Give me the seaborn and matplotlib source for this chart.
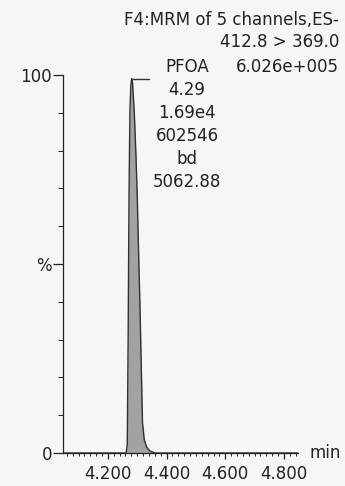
import numpy as np
import pandas as pd
import matplotlib
matplotlib.use("Agg")
import matplotlib.pyplot as plt
import seaborn as sns
from matplotlib.ticker import MultipleLocator, FixedLocator

# chromatogram trace (retention time in min, relative intensity in %)
rt = [4.047, 4.200, 4.262, 4.266, 4.269, 4.272, 4.275, 4.278, 4.281, 4.284,
      4.290, 4.296, 4.300, 4.305, 4.309, 4.314, 4.318, 4.324, 4.332, 4.342,
      4.360, 4.400, 4.600, 4.848]
intensity = [0, 0, 0, 2, 30, 68, 90, 97, 99, 98,
             90, 78, 68, 52, 40, 22, 8, 3.5, 1.6, 0.6,
             0, 0, 0, 0]

header_lines = ["F4:MRM of 5 channels,ES-", "412.8 > 369.0"]
max_intensity = "6.026e+005"
peak_name = "PFOA"
peak_info = ["4.29", "1.69e4", "602546", "bd", "5062.88"]

x_ticks = [4.2, 4.4, 4.6, 4.8]
x_labels = ["4.200", "4.400", "4.600", "4.800"]
y_ticks = [0, 50, 100]
y_labels = ["0", "%", "100"]

df = pd.DataFrame({"rt": rt, "intensity": intensity})

sns.set_style("ticks")
plt.rcParams["font.family"] = ["DejaVu Sans"]
ink = "#222222"
bg = "#f6f6f4"

fig = plt.figure(figsize=(3.45, 4.86), dpi=100, facecolor=bg)
ax = fig.add_axes([0.1826, 0.0679, 0.6812, 0.7778])
ax.set_facecolor(bg)

ax.fill_between(df["rt"], df["intensity"], color="#a2a2a2", lw=0)
sns.lineplot(data=df, x="rt", y="intensity", color="#303030", lw=1.0, ax=ax)

# peak top marker
apex = df.loc[df["intensity"].idxmax()]
ax.plot([apex["rt"], apex["rt"] + 0.058], [apex["intensity"], apex["intensity"]],
        color="#303030", lw=1.0, clip_on=False)

ax.set_xlim(4.047, 4.848)
ax.set_ylim(0, 100)
ax.set_xlabel("")
ax.set_ylabel("")

ax.xaxis.set_major_locator(FixedLocator(x_ticks))
ax.set_xticklabels(x_labels)
ax.xaxis.set_minor_locator(MultipleLocator(0.02))
ax.yaxis.set_major_locator(FixedLocator(y_ticks))
ax.set_yticklabels(y_labels)
ax.yaxis.set_minor_locator(MultipleLocator(10))

ax.tick_params(axis="x", which="major", length=4.5, width=0.9, pad=4,
               labelsize=12, colors=ink)
ax.tick_params(axis="x", which="minor", length=2.5, width=0.7, color=ink)
ax.tick_params(axis="y", which="major", length=7, width=0.9, pad=1,
               labelsize=12, colors=ink)
ax.tick_params(axis="y", which="minor", length=3.6, width=0.7, color=ink)

sns.despine(ax=ax)
for side in ["left", "bottom"]:
    ax.spines[side].set_color(ink)
    ax.spines[side].set_linewidth(0.9)

ax.text(1.047, 0.0, "min", transform=ax.transAxes, fontsize=12,
        color=ink, va="center", ha="left")

# header text
fig.text(0.9826, 0.9486, header_lines[0], fontsize=12, color=ink,
         ha="right", va="baseline")
fig.text(0.9826, 0.9033, header_lines[1], fontsize=12, color=ink,
         ha="right", va="baseline")
fig.text(0.9826, 0.8519, max_intensity, fontsize=12, color=ink,
         ha="right", va="baseline")
fig.text(0.542, 0.8519, peak_name, fontsize=12, color=ink,
         ha="center", va="baseline")
for i, s in enumerate(peak_info):
    fig.text(0.542, 0.8045 - i * 0.0473, s, fontsize=12, color=ink,
             ha="center", va="baseline")

fig.savefig("out.png", dpi=100, facecolor=fig.get_facecolor())
